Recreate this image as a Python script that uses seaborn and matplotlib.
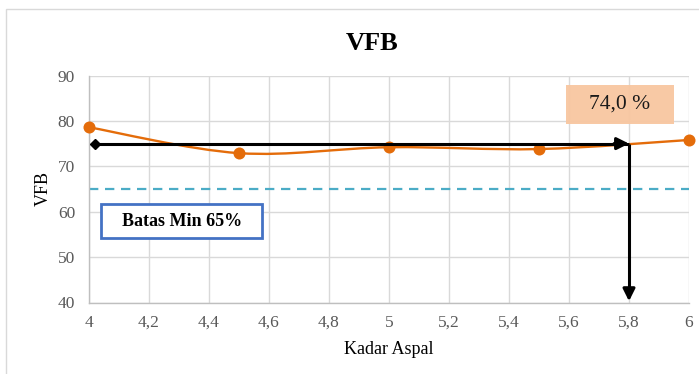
import numpy as np
import pandas as pd
import seaborn as sns
import matplotlib
matplotlib.use("Agg")
import matplotlib.pyplot as plt
from matplotlib.path import Path
from matplotlib.patches import PathPatch, Rectangle

# ---- data ----
kadar_aspal = [4.0, 4.5, 5.0, 5.5, 6.0]
vfb = [78.6, 72.9, 74.2, 73.8, 75.8]
x_ticks = [4.0, 4.2, 4.4, 4.6, 4.8, 5.0, 5.2, 5.4, 5.6, 5.8, 6.0]
x_tick_labels = ["4", "4,2", "4,4", "4,6", "4,8", "5", "5,2", "5,4", "5,6", "5,8", "6"]
y_ticks = [40, 50, 60, 70, 80, 90]
batas_min = 65
kadar_optimum = 5.8
vfb_optimum = 75.0
arrow_start_x = 4.02
label_optimum = "74,0 %"
label_batas = "Batas Min 65%"
title = "VFB"
x_label = "Kadar Aspal"
y_label = "VFB"

sns.set_theme(style="whitegrid")
plt.rcParams["font.family"] = ["Liberation Serif", "DejaVu Serif"]

orange = "#E46C0A"
grid_c = "#D9D9D9"
tick_c = "#595959"

fig = plt.figure(figsize=(6.99, 3.74), dpi=100)
ax = fig.add_axes([89 / 699, 1 - 302.5 / 374, 600 / 699, (302.5 - 75.5) / 374])

df = pd.DataFrame({"Kadar Aspal": kadar_aspal, "VFB": vfb})

# smoothed curve (Catmull-Rom -> cubic Bezier) through the data points
pts = np.column_stack([kadar_aspal, vfb])
ext = np.vstack([pts[0], pts, pts[-1]])
verts = [tuple(pts[0])]
codes = [Path.MOVETO]
for i in range(1, len(ext) - 2):
    p0, p1, p2, p3 = ext[i - 1], ext[i], ext[i + 1], ext[i + 2]
    c1 = p1 + (p2 - p0) / 6.0
    c2 = p2 - (p3 - p1) / 6.0
    verts += [tuple(c1), tuple(c2), tuple(p2)]
    codes += [Path.CURVE4] * 3
ax.add_patch(PathPatch(Path(verts, codes), facecolor="none", edgecolor=orange,
                       lw=1.7, zorder=3))
sns.scatterplot(data=df, x="Kadar Aspal", y="VFB", color=orange, s=75,
                edgecolor=orange, linewidth=0, ax=ax, zorder=4, clip_on=False)

# minimum limit dashed line
ax.plot([kadar_aspal[0], kadar_aspal[-1]], [batas_min, batas_min], color="#4BACC6",
        lw=1.6, dashes=(4.2, 3.0), zorder=2)

# optimum arrows
ax.plot([arrow_start_x, kadar_optimum], [vfb_optimum, vfb_optimum], color="black",
        lw=2.2, zorder=5, solid_capstyle="butt")
ax.plot([arrow_start_x], [vfb_optimum], marker="D", color="black", ms=5, zorder=6)
ax.annotate("", xy=(kadar_optimum, vfb_optimum), xytext=(kadar_optimum - 0.05, vfb_optimum),
            arrowprops=dict(arrowstyle="-|>,head_length=0.6,head_width=0.3", color="black",
                            lw=2.2, shrinkA=0, shrinkB=0), zorder=6)
ax.plot([kadar_optimum, kadar_optimum], [vfb_optimum, 41.5], color="black",
        lw=2.2, zorder=5, solid_capstyle="butt")
ax.annotate("", xy=(kadar_optimum, 40.3), xytext=(kadar_optimum, 43),
            arrowprops=dict(arrowstyle="-|>,head_length=0.6,head_width=0.3", color="black",
                            lw=2.2, shrinkA=0, shrinkB=0), zorder=6, annotation_clip=False)

# annotation boxes
ax.add_patch(Rectangle((5.59, 79.4), 0.36, 8.6, facecolor="#F8C6A0", edgecolor="none",
                       alpha=0.95, zorder=3))
ax.text(5.77, 83.7, label_optimum, ha="center", va="center", fontsize=15.5,
        color="#1a1a1a", zorder=4)
ax.add_patch(Rectangle((4.04, 54.3), 0.537, 7.3, facecolor="white", edgecolor="#4472C4",
                       lw=2.0, zorder=3))
ax.text(4.31, 57.9, label_batas, ha="center", va="center", fontsize=13,
        fontweight="bold", color="black", zorder=4)

# axes styling
ax.set_xlim(4, 6)
ax.set_ylim(40, 90)
ax.set_xticks(x_ticks)
ax.set_xticklabels(x_tick_labels)
ax.set_yticks(y_ticks)
ax.grid(True, color=grid_c, lw=1.0)
for s in ["top", "right"]:
    ax.spines[s].set_visible(False)
for s in ["left", "bottom"]:
    ax.spines[s].set_color("#BFBFBF")
    ax.spines[s].set_linewidth(1.0)
ax.tick_params(axis="x", labelsize=12.5, colors=tick_c, pad=9, length=0)
ax.tick_params(axis="y", labelsize=12.5, colors=tick_c, pad=10, length=0)
ax.set_xlabel(x_label, fontsize=13, color="black", labelpad=7)
ax.set_ylabel(y_label, fontsize=13, color="black", labelpad=4)
fig.text(372 / 699, 1 - 50 / 374, title, ha="center", va="baseline",
         fontsize=19, fontweight="bold", color="black")

# outer chart frame
fig.add_artist(Rectangle((6 / 699, -0.1), 1.0, 1 - 9.5 / 374 + 0.1,
                         transform=fig.transFigure, facecolor="none",
                         edgecolor="#D9D9D9", lw=1.0))

fig.savefig("out.png", dpi=100, facecolor="white")
